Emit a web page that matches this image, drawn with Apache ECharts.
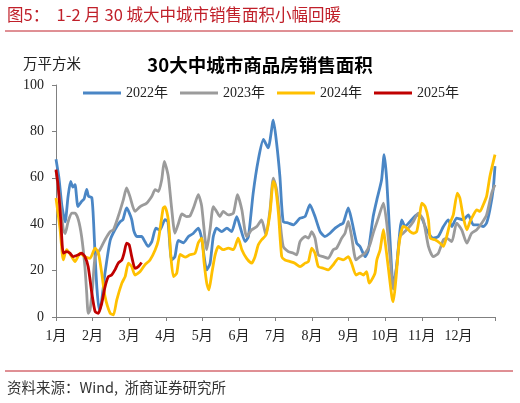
<!DOCTYPE html>
<html lang="zh">
<head>
    <meta charset="UTF-8"/>
    <script src="https://cdn.jsdelivr.net/npm/echarts@6/dist/echarts.min.js"></script>
    <title>30大中城市商品房销售面积</title>
    <style>
        html, body { margin: 0; padding: 0; background: #fff; }
        #main { width: 520px; height: 403px; }
    </style>
</head>
<body>
<div id="main"></div>
<script type="text/javascript">
    // x = position in months from 1 Jan (0..12), y = 万平方米
    var years = ['2022年', '2023年', '2024年', '2025年'];
    var colors = ['#4A86C5', '#9B9B9B', '#FFC000', '#C00000'];
    var monthLabels = ['1月','2月','3月','4月','5月','6月','7月','8月','9月','10月','11月','12月'];

    var x2022 = [0,0.08,0.16,0.25,0.33,0.40,0.46,0.52,0.60,0.70,0.77,0.84,0.89,0.98,1.03,1.07,1.12,1.18,1.24,1.34,1.48,1.61,1.75,1.83,1.93,2.00,2.07,2.13,2.21,2.34,2.43,2.52,2.62,2.73,2.84,2.98,3.06,3.16,3.25,3.34,3.48,3.62,3.75,3.89,3.98,4.12,4.21,4.30,4.39,4.53,4.67,4.80,4.94,5.03,5.17,5.26,5.39,5.53,5.67,5.80,5.94,6.03,6.12,6.21,6.35,6.49,6.67,6.81,6.94,7.08,7.22,7.35,7.49,7.63,7.76,7.85,7.99,8.08,8.22,8.31,8.45,8.54,8.67,8.77,8.90,8.97,9.04,9.13,9.22,9.31,9.45,9.54,9.68,9.86,10.00,10.13,10.31,10.45,10.59,10.72,10.82,10.95,11.13,11.27,11.41,11.54,11.68,11.77,11.86,11.95,12.0];
    var y2022 = [68,60,48,41,52,58.5,56,57,47.6,49.8,51,55,52,51.4,40,26,12,3,6,19,33,37.6,41,42,47,45,42,37,34.7,34.7,32.5,30.4,32.5,38.3,37.5,42,41,24.6,26,33,32,34.7,36,38.3,34,20.3,23,34.7,38.3,36.8,38.3,36.8,43.3,39,32.5,34.7,53.4,67.8,76.5,72.9,84.8,75,60.6,41.2,40.5,39.7,42.6,43.3,48.4,43.3,36.8,34.7,36.1,38.3,39.7,40.5,47,41.9,31.8,30.4,26,28.9,43.3,50.5,59.2,70,59.2,33.3,13,21.7,41.9,39,41.2,44,42.6,37.6,34,34.7,39,41.9,39,42.6,41.9,44,39.7,39.7,39,40.5,46.2,54.9,65];

    var x2023 = [0,0.11,0.20,0.25,0.33,0.43,0.52,0.61,0.70,0.79,0.84,0.88,0.93,1.00,1.07,1.20,1.34,1.48,1.57,1.70,1.84,1.93,2.02,2.16,2.30,2.48,2.62,2.71,2.80,2.89,2.96,3.07,3.16,3.25,3.34,3.44,3.57,3.66,3.77,3.89,3.98,4.12,4.21,4.30,4.39,4.48,4.57,4.71,4.85,4.96,5.08,5.21,5.35,5.49,5.62,5.74,5.85,5.94,6.03,6.12,6.21,6.35,6.49,6.58,6.67,6.81,6.90,6.99,7.08,7.17,7.31,7.44,7.58,7.67,7.81,7.90,7.99,8.08,8.20,8.31,8.45,8.58,8.67,8.81,8.95,9.04,9.13,9.22,9.31,9.40,9.49,9.63,9.77,9.90,10.04,10.18,10.31,10.45,10.59,10.68,10.82,10.95,11.09,11.23,11.36,11.50,11.64,11.77,11.91,12.0];
    var y2023 = [63,50,37.6,36,41,44.8,44.8,42,34.7,21.7,10.2,1.6,3,13,26,29,33.3,36.8,37.6,43.3,50.5,55.6,52,45.5,47.6,49.1,52,54.9,54.1,59.2,67.1,60.6,47,36.1,40,44.4,43.3,43.5,47.5,52.7,48,29,37.6,47.6,45.5,43.3,45.5,44,44.8,52.7,46.2,34.7,37.6,39,41.9,35.4,46.2,59.9,54.9,41.9,30.4,28.2,27.5,26.8,32.5,34.7,34,36.8,34,26.8,26,25.3,29,29.7,34,36.1,41.2,34.7,24.6,26,27.5,31.1,36.1,42.6,49.1,40.5,26,12,21.7,34.7,36.1,38.3,41.2,44.8,41.9,30.4,26,27.5,33.3,34,32.5,40.5,37.6,31.8,36.1,37.6,40.5,44,53.4,57];

    var x2024 = [0,0.11,0.20,0.29,0.43,0.52,0.66,0.79,0.93,1.07,1.16,1.25,1.34,1.48,1.57,1.66,1.80,1.89,1.98,2.07,2.16,2.30,2.43,2.57,2.71,2.80,2.93,2.98,3.07,3.14,3.21,3.30,3.39,3.53,3.66,3.80,3.89,3.98,4.05,4.12,4.18,4.26,4.35,4.44,4.57,4.71,4.85,4.98,5.08,5.21,5.35,5.44,5.53,5.62,5.74,5.85,5.94,5.99,6.08,6.17,6.26,6.40,6.53,6.67,6.81,6.90,6.99,7.08,7.17,7.31,7.44,7.58,7.72,7.85,7.99,8.08,8.20,8.31,8.40,8.49,8.56,8.63,8.72,8.77,8.86,8.95,8.99,9.08,9.18,9.22,9.29,9.38,9.49,9.59,9.68,9.77,9.86,9.95,10.00,10.09,10.18,10.23,10.36,10.50,10.59,10.68,10.77,10.86,10.97,11.04,11.13,11.23,11.32,11.41,11.50,11.59,11.68,11.77,11.86,12.0];
    var y2024 = [51.3,38,24.6,29,26,23.9,27.5,26,25.3,29.7,27.5,18.9,8.8,1.6,0.9,7.3,14.6,17.4,23.2,21.7,18.1,19.6,22.5,24.6,28.9,33.3,47,47.6,41.9,26,17.4,18.9,27,25.8,26.8,27.5,32,34,23.2,14.6,11.7,18.9,26.8,30.4,29,29.7,29,34,29,25.3,23.2,26,31.1,33.3,35.4,44.8,58.4,57,44.8,26,24.6,23.9,23.2,21.7,23.2,23.9,29.7,27.5,21.7,21,20.3,22.5,25.3,24.6,26,23.2,18.1,18.9,18.1,19.6,14.6,16,18.9,24.6,29,37.6,33.3,21.7,8.8,6.6,16,31.8,39,38.3,36.8,36.1,36.8,44.8,49.1,47.6,41.9,34,33.3,31.8,30.4,34.7,40.5,44,53.4,51.3,43.3,37.6,41.2,44,46.2,45.5,48.4,52,60.6,70];

    var x2025 = [0,0.06,0.13,0.20,0.29,0.38,0.47,0.61,0.70,0.79,0.88,0.98,1.07,1.16,1.25,1.34,1.43,1.52,1.61,1.70,1.80,1.86,1.93,2.00,2.07,2.16,2.25,2.34];
    var y2025 = [63.5,56.3,41.9,27.5,28.2,27.5,26,26.8,27.5,26,21.7,10.2,2.3,1.6,5.9,13,17.4,18.1,20.3,23.2,24.6,27.5,31.8,31.1,26,21,21.7,23.5];

    var xs = [x2022, x2023, x2024, x2025];
    var ys = [y2022, y2023, y2024, y2025];

    function pairs(xArr, yArr) {
        var out = [];
        for (var i = 0; i < xArr.length; i++) {
            out.push([xArr[i], yArr[i]]);
        }
        return out;
    }

    var series = [];
    for (var k = 0; k < years.length; k++) {
        series.push({
            name: years[k],
            type: 'line',
            data: pairs(xs[k], ys[k]),
            symbol: 'none',
            smooth: 0.2,
            lineStyle: { color: colors[k], width: 2.8 },
            itemStyle: { color: colors[k] }
        });
    }

    var serif = '"Liberation Serif", "Noto Sans CJK SC", serif';
    var cjk = '"Noto Sans CJK SC", sans-serif';
    var myChart = echarts.init(document.getElementById('main'));
    var option = {
        backgroundColor: '#fff',
        animation: false,
        title: {
            text: '30大中城市商品房销售面积',
            left: 'center',
            top: 51,
            textStyle: {
                fontFamily: cjk,
                fontSize: 18.5,
                fontWeight: 'bold',
                color: '#000'
            }
        },
        legend: {
            data: years,
            left: 78,
            top: 81,
            icon: 'rect',
            itemWidth: 38,
            itemHeight: 3,
            itemGap: 12,
            textStyle: { fontFamily: serif, fontSize: 14, color: '#222' }
        },
        grid: { left: 56, right: 25, top: 85, bottom: 86 },
        xAxis: {
            type: 'value',
            min: 0,
            max: 12,
            interval: 1,
            splitLine: { show: false },
            axisLine: { lineStyle: { color: '#808080' } },
            axisTick: { show: true, length: 4, lineStyle: { color: '#808080' } },
            axisLabel: {
                margin: 12,
                fontFamily: serif,
                fontSize: 14,
                color: '#222',
                showMaxLabel: true,
                formatter: function (v) {
                    return v < 12 ? monthLabels[v] : '';
                }
            }
        },
        yAxis: {
            type: 'value',
            min: 0,
            max: 100,
            interval: 20,
            splitLine: { show: false },
            axisLine: { show: true, lineStyle: { color: '#808080' } },
            axisTick: { show: true, length: 4, lineStyle: { color: '#808080' } },
            axisLabel: { margin: 12, fontFamily: serif, fontSize: 14, color: '#222' }
        },
        graphic: [
            {
                type: 'text', left: 7, top: 6,
                style: {
                    text: '图5：  1-2 月 30 城大中城市销售面积小幅回暖',
                    fontFamily: cjk,
                    fontSize: 16.5,
                    fill: '#C0202A'
                }
            },
            {
                type: 'line',
                shape: { x1: 5, y1: 31, x2: 513, y2: 31 },
                style: { stroke: '#C0202A', lineWidth: 1 }
            },
            {
                type: 'text', left: 23, top: 56,
                style: {
                    text: '万平方米',
                    fontFamily: cjk,
                    fontSize: 14.5,
                    fill: '#222'
                }
            },
            {
                type: 'line',
                shape: { x1: 5, y1: 371, x2: 513, y2: 371 },
                style: { stroke: '#C0202A', lineWidth: 1 }
            },
            {
                type: 'text', left: 7, top: 380,
                style: {
                    text: '资料来源：Wind,  浙商证券研究所',
                    fontFamily: cjk,
                    fontSize: 14.5,
                    fill: '#333'
                }
            }
        ],
        series: series
    };
    myChart.setOption(option);
</script>
</body>
</html>
